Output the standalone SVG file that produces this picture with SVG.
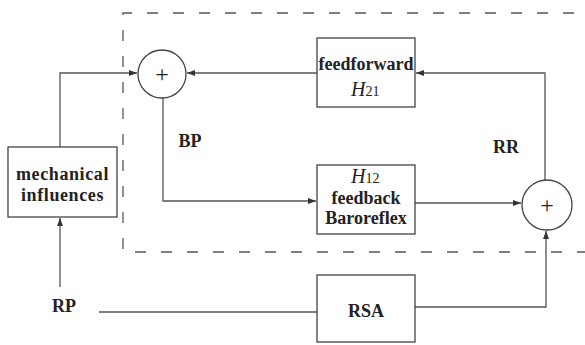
<svg xmlns="http://www.w3.org/2000/svg" width="585" height="345" viewBox="0 0 585 345">
<style>
.box{fill:#fff;stroke:#444;stroke-width:1.3}
.ln{fill:none;stroke:#555;stroke-width:1.3}
.dash{fill:none;stroke:#555;stroke-width:1.3;stroke-dasharray:11 15}
.t{font-family:"Liberation Serif","Times New Roman",serif;font-weight:bold;font-size:18px;fill:#222;text-anchor:middle}
.h{font-family:"Liberation Serif","Times New Roman",serif;font-style:italic;font-size:20px;fill:#222}
.s{font-family:"Liberation Serif","Times New Roman",serif;font-size:14px;fill:#222;font-style:normal}
.plus{font-family:"Liberation Serif","Times New Roman",serif;font-size:24px;fill:#222;text-anchor:middle}
</style>
<defs>
<marker id="ah" viewBox="0 0 8 6" refX="8" refY="3" markerWidth="8" markerHeight="6" markerUnits="userSpaceOnUse" orient="auto">
<path d="M0,0 L8,3 L0,6 Z" fill="#333"/>
</marker>
</defs>
<path class="dash" d="M600 13 H123 V252 H600"/>
<g id="connectors">
<path class="ln" d="M60 147 V73 H137" marker-end="url(#ah)"/>
<path class="ln" d="M317 73 H187" marker-end="url(#ah)"/>
<path class="ln" d="M545 181 V73 H416" marker-end="url(#ah)"/>
<path class="ln" d="M163 98 V201 H316" marker-end="url(#ah)"/>
<path class="ln" d="M415 203 H521" marker-end="url(#ah)"/>
<path class="ln" d="M415 307 H546 V231" marker-end="url(#ah)"/>
<path class="ln" d="M99 312 H317"/>
<path class="ln" d="M60 287 V218" marker-end="url(#ah)"/>
</g>
<g id="sum1"><circle class="box" cx="162" cy="74" r="24"/><text class="plus" x="162" y="82">+</text></g>
<g id="sum2"><circle class="box" cx="547" cy="205" r="25"/><text class="plus" x="547" y="213">+</text></g>
<g id="mechanical"><rect class="box" x="8" y="147" width="109" height="70"/>
<text class="t" x="62.5" y="180" letter-spacing="0.6">mechanical</text>
<text class="t" x="62.5" y="201" letter-spacing="0.6">influences</text></g>
<g id="feedforward"><rect class="box" x="317" y="38" width="98" height="69"/>
<text class="t" x="366" y="70">feedforward</text>
<text class="h" x="351" y="96">H<tspan class="s">21</tspan></text></g>
<g id="feedback"><rect class="box" x="317" y="165" width="98" height="69"/>
<text class="h" x="351" y="183">H<tspan class="s">12</tspan></text>
<text class="t" x="366" y="204">feedback</text>
<text class="t" x="366" y="224">Baroreflex</text></g>
<g id="rsa"><rect class="box" x="317" y="275" width="98" height="67"/>
<text class="t" x="366" y="317">RSA</text></g>
<text class="t" x="190" y="147">BP</text>
<text class="t" x="506" y="153">RR</text>
<text class="t" x="64" y="312">RP</text>
</svg>
